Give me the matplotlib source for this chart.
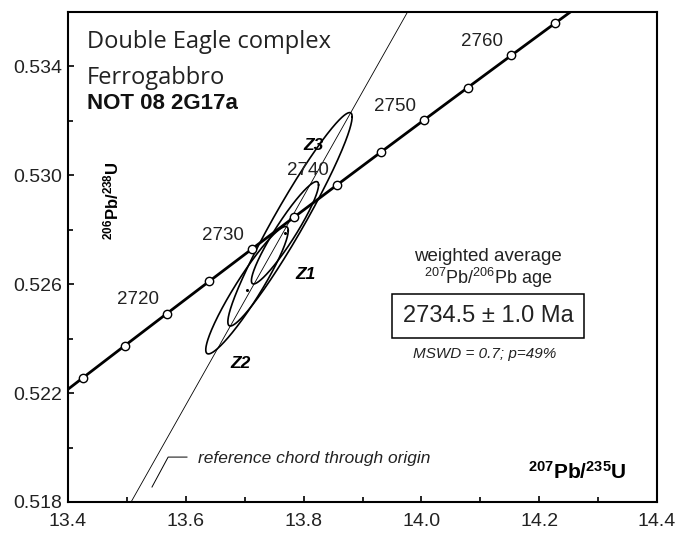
import numpy as np
import matplotlib
matplotlib.use('Agg')
import matplotlib.pyplot as plt
from matplotlib.ticker import MultipleLocator, FixedLocator, FixedFormatter

plt.rcParams['font.family'] = ['Liberation Sans', 'DejaVu Sans']
plt.rcParams['mathtext.fontset'] = 'custom'
plt.rcParams['mathtext.rm'] = 'Liberation Sans'
plt.rcParams['mathtext.bf'] = 'Liberation Sans:bold'
plt.rcParams['mathtext.it'] = 'Liberation Sans:italic'

# ---- data -------------------------------------------------------------
LAMBDA_238 = 1.55125e-4   # per Ma
LAMBDA_235 = 9.8485e-4    # per Ma

marker_ages = [2700, 2705, 2710, 2715, 2720, 2725, 2730, 2735, 2740,
               2745, 2750, 2755, 2760, 2765, 2770, 2775]
label_ages = [2720, 2730, 2740, 2750, 2760]

zircon_names = ['Z1', 'Z2', 'Z3']
zircon_x = [13.7684, 13.7039, 13.7769]       # 207Pb/235U
zircon_y = [0.52789, 0.52578, 0.528385]      # 206Pb/238U
zircon_ex = [0.0570, 0.0700, 0.1055]         # 2-sigma half extents
zircon_ey = [0.00188, 0.00234, 0.00392]
zircon_rho = [0.935, 0.935, 0.960]
zircon_label_x = [13.8041, 13.6937, 13.8177]
zircon_label_y = [0.52637, 0.52310, 0.53110]

weighted_age = 2734.5
age_text = '2734.5 ± 1.0 Ma'
mswd_text = 'MSWD = 0.7; p=49%'

x_ticks = [13.4, 13.6, 13.8, 14.0, 14.2, 14.4]
x_ticklabels = ['13.4', '13.6', '13.8', '14.0', '14.2', '14.4']
y_ticks = [0.518, 0.522, 0.526, 0.530, 0.534]
y_ticklabels = ['0.518', '0.522', '0.526', '0.530', '0.534']

xlim = (13.4, 14.4)
ylim = (0.518, 0.536)


def concordia(t):
    t = np.asarray(t, dtype=float)
    return np.exp(LAMBDA_235 * t) - 1.0, np.exp(LAMBDA_238 * t) - 1.0


# ---- figure -----------------------------------------------------------
fig = plt.figure(figsize=(6.81, 5.37), dpi=100)
ax = fig.add_axes([68 / 681, 1 - 502 / 537, 589 / 681, 490 / 537])

# reference chord through origin and the weighted-average age
cx0, cy0 = concordia(weighted_age)
slope = cy0 / cx0
xs = np.array([13.3, 14.5])
ax.plot(xs, slope * xs, color='black', lw=0.6, zorder=2)

# error ellipses
tt = np.linspace(0, 2 * np.pi, 400)
for x0, y0, ex, ey, r in zip(zircon_x, zircon_y, zircon_ex, zircon_ey, zircon_rho):
    ex_ = x0 + ex * np.cos(tt)
    ey_ = y0 + ey * (r * np.cos(tt) + np.sqrt(1 - r * r) * np.sin(tt))
    ax.plot(ex_, ey_, color='black', lw=1.2, zorder=3)
    ax.plot([x0], [y0], 'o', color='black', ms=1.2, zorder=3)

for name, lx, ly in zip(zircon_names, zircon_label_x, zircon_label_y):
    ax.text(lx, ly, name, fontsize=12.5, fontweight='bold', style='italic',
            ha='center', va='center', zorder=6)

# concordia curve with age markers
mx, my = concordia(marker_ages)
ax.plot(mx, my, color='black', lw=2.0, zorder=4)
ax.plot(mx, my, 'o', ms=6, mfc='white', mec='black', mew=1.0, zorder=5)
lx, ly = concordia(label_ages)
for a, x, y in zip(label_ages, lx, ly):
    ax.annotate(str(a), (x, y), xytext=(-29, 14), textcoords='offset pixels',
                ha='center', va='center', fontsize=13.5, color='#222222', zorder=6)

ax.set_xlim(*xlim)
ax.set_ylim(*ylim)

ax.xaxis.set_major_locator(FixedLocator(x_ticks))
ax.xaxis.set_major_formatter(FixedFormatter(x_ticklabels))
ax.xaxis.set_minor_locator(MultipleLocator(0.1))
ax.yaxis.set_major_locator(FixedLocator(y_ticks))
ax.yaxis.set_major_formatter(FixedFormatter(y_ticklabels))
ax.yaxis.set_minor_locator(MultipleLocator(0.002))
ax.tick_params(which='both', direction='in', width=1.2, length=4.5,
               labelsize=14, colors='black', labelcolor='#222222')
ax.tick_params(axis='x', which='both', pad=8)
ax.tick_params(axis='y', which='both', pad=4)
ax.tick_params(which='minor', length=3.5)
for s in ax.spines.values():
    s.set_linewidth(1.5)

# texts
def axpos(px, py):
    return (px - 68) / 589, (502 - py) / 490

ax.text(*axpos(87, 48), 'Double Eagle complex', transform=ax.transAxes,
        fontsize=17, family=['Open Sans', 'DejaVu Sans'], color='#222222',
        ha='left', va='baseline')
ax.text(*axpos(87, 84), 'Ferrogabbro', transform=ax.transAxes,
        fontsize=17, family=['Open Sans', 'DejaVu Sans'], color='#222222',
        ha='left', va='baseline')
ax.text(*axpos(87, 109), 'NOT 08 2G17a', transform=ax.transAxes,
        fontsize=16, fontweight='bold', ha='left', va='baseline', color='#111111')

ax.text(*axpos(111, 201), r'$^{\mathbf{206}}\mathbf{Pb/}^{\mathbf{238}}\mathbf{U}$',
        transform=ax.transAxes, fontsize=12, rotation=90,
        ha='center', va='center')
ax.text(*axpos(577, 472), r'$^{\mathbf{207}}\mathbf{Pb/}^{\mathbf{235}}\mathbf{U}$',
        transform=ax.transAxes, fontsize=15, ha='center', va='center')

ax.text(*axpos(488, 261), 'weighted average', transform=ax.transAxes,
        fontsize=13.5, ha='center', va='baseline', color='#222222')
ax.text(*axpos(488, 284), r'$^{\mathrm{207}}\mathrm{Pb/}^{\mathrm{206}}\mathrm{Pb\ age}$',
        transform=ax.transAxes, fontsize=13, ha='center', va='baseline',
        color='#222222')
ax.text(*axpos(488, 316), age_text, transform=ax.transAxes,
        fontsize=17, ha='center', va='center', color='#222222',
        bbox=dict(boxstyle='square,pad=0.45', fc='white', ec='black', lw=1.1))
ax.text(*axpos(485, 354), mswd_text, transform=ax.transAxes,
        fontsize=11, style='italic', ha='center', va='center', color='#222222')

# reference chord leader and label
ax.plot([13.602, 13.570, 13.5426], [0.51965, 0.51965, 0.51855],
        color='black', lw=0.7, zorder=2)
ax.text(*axpos(198, 458), 'reference chord through origin', transform=ax.transAxes,
        fontsize=12.5, style='italic', ha='left', va='center', color='#222222')

fig.savefig('out.png', dpi=100)
